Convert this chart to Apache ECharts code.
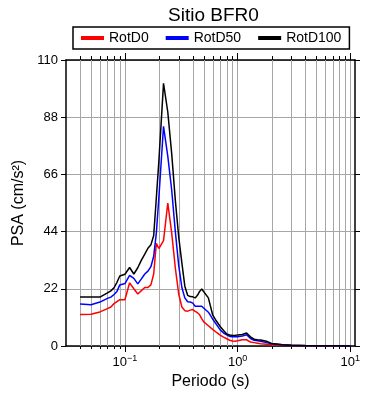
<!DOCTYPE html>
<html>
<head>
<meta charset="utf-8">
<script src="https://cdn.jsdelivr.net/npm/echarts@6/dist/echarts.min.js"></script>
<style>
html, body { margin: 0; padding: 0; background: #fff; }
#chart { width: 390px; height: 400px; }
</style>
</head>
<body>
<div id="chart"></div>
<script>
// periods (s)
const periods = [0.04, 0.05, 0.06, 0.07, 0.075, 0.08, 0.085, 0.09,
  0.1, 0.11, 0.12, 0.13, 0.14, 0.15, 0.16, 0.17, 0.18, 0.19, 0.2,
  0.22, 0.24, 0.26, 0.28, 0.3, 0.32, 0.34, 0.36, 0.38, 0.4, 0.42, 0.44, 0.46, 0.48, 0.5,
  0.55, 0.6, 0.65, 0.7, 0.75, 0.8, 0.85, 0.9, 0.95, 1.0,
  1.1, 1.2, 1.3, 1.4, 1.5, 1.6, 1.8, 2.0,
  2.5, 3.0, 3.5, 4.0,
  5.0, 6.0, 7.0, 8.0, 9.0, 10.0]

// PSA (cm/s2)
const rotD0 = [12.1, 12.2, 13.1, 14.4, 15.0, 16.3, 17.1, 17.8,
  17.8, 24.3, 22.0, 20.0, 21.3, 22.5, 22.5, 23.5, 27.7, 39.5, 37.5,
  40.5, 55.0, 43.5, 30.0, 20.0, 15.0, 13.6, 13.4, 13.8, 14.0, 13.3, 12.8, 12.0, 10.5, 9.3,
  7.8, 6.4, 5.2, 4.2, 3.4, 2.8, 2.2, 1.9, 1.8, 2.0,
  2.4, 2.4, 1.5, 1.3, 1.1, 0.9, 0.7, 0.5,
  0.3, 0.2, 0.15, 0.1,
  0.07, 0.05, 0.04, 0.03, 0.03, 0.02]

const rotD50 = [16.2, 15.9, 16.9, 18.3, 18.8, 19.8, 21.0, 23.5,
  24.0, 27.2, 26.0, 23.9, 25.8, 27.7, 28.8, 30.5, 34.5, 43.5, 57.0,
  84.5, 73.0, 60.0, 44.0, 31.0, 22.5, 18.5, 17.0, 16.9, 16.5, 15.3, 15.3, 15.3, 15.3, 15.2,
  13.0, 10.4, 8.2, 6.2, 5.0, 4.3, 3.7, 3.6, 3.6, 3.6,
  3.8, 4.3, 2.9, 2.2, 2.0, 1.8, 1.3, 0.9,
  0.45, 0.3, 0.2, 0.12,
  0.08, 0.06, 0.05, 0.04, 0.03, 0.03]

const rotD100 = [18.8, 18.8, 18.8, 20.4, 21.2, 22.4, 24.5, 26.9,
  27.6, 30.2, 27.7, 30.1, 33.0, 35.3, 37.6, 38.9, 42.5, 57.0, 71.0,
  101.0, 90.0, 74.0, 56.0, 42.0, 32.0, 23.0, 19.5, 19.0, 18.9, 18.5, 19.5, 21.0, 21.9, 21.8,
  18.5, 12.0, 9.5, 7.5, 6.0, 4.6, 4.2, 4.0, 4.1, 4.2,
  4.4, 5.0, 3.5, 2.6, 2.4, 2.3, 1.8, 1.0,
  0.5, 0.3, 0.2, 0.15,
  0.1, 0.08, 0.06, 0.05, 0.04, 0.03]

const majorPeriods = [0.1, 1, 10]
const minorPeriods = [0.04, 0.05, 0.06, 0.07, 0.08, 0.09,
  0.2, 0.3, 0.4, 0.5, 0.6, 0.7, 0.8, 0.9,
  2, 3, 4, 5, 6, 7, 8, 9]

const FONT = 'Liberation Sans, Arial, sans-serif'

const pairs = (vals) => periods.map((p, i) => [p, vals[i]])

const supText = (v) => {
  const e = Math.round(Math.log10(v))
  if (Math.abs(Math.pow(10, e) - v) > 1e-9 * v) return ''
  return '{b|10}{s|' + (e < 0 ? '\u2212' : '') + Math.abs(e) + '}'
}

const chart = echarts.init(document.getElementById('chart'), null, { renderer: 'canvas' })

const logAxis = {
  type: 'log',
  logBase: 10,
  min: 0.03,
  max: 11,
  axisLine: { onZero: false, lineStyle: { color: '#000', width: 1.5 } }
}

const option = {
  animation: false,
  backgroundColor: '#fff',
  textStyle: { fontFamily: FONT },
  title: {
    text: 'Sitio BFR0',
    left: 163,
    top: 1,
    textStyle: { fontSize: 19, fontWeight: 'normal', color: '#000', fontFamily: FONT }
  },
  legend: {
    data: ['RotD0', 'RotD50', 'RotD100'],
    left: 73,
    top: 27,
    icon: 'rect',
    itemWidth: 23,
    itemHeight: 4,
    itemGap: 17,
    padding: [4, 8],
    borderColor: '#000',
    borderWidth: 1.5,
    textStyle: { fontSize: 14, color: '#000', fontFamily: FONT }
  },
  grid: { left: 66, right: 35, top: 60, bottom: 54 },
  xAxis: [
    Object.assign({}, logAxis, {
      position: 'bottom',
      name: 'Periodo (s)',
      nameLocation: 'middle',
      nameGap: 27,
      nameTextStyle: { fontSize: 16, color: '#000', fontFamily: FONT },
      axisTick: { show: true, inside: false, length: 6, customValues: majorPeriods, lineStyle: { color: '#000' } },
      axisLabel: {
        customValues: majorPeriods,
        margin: 8,
        formatter: supText,
        rich: {
          b: { fontSize: 13, color: '#000', fontFamily: FONT, lineHeight: 16 },
          s: { fontSize: 9, color: '#000', fontFamily: FONT, verticalAlign: 'top', lineHeight: 16 }
        }
      },
      splitLine: { show: true, lineStyle: { color: '#a6a6a6', width: 1 } },
      minorTick: { show: false },
      minorSplitLine: { show: false }
    }),
    Object.assign({}, logAxis, {
      position: 'top',
      axisTick: { show: true, inside: false, length: 7, customValues: majorPeriods, lineStyle: { color: '#000' } },
      axisLabel: { show: false },
      splitLine: { show: false }
    })
  ],
  yAxis: [
    {
      type: 'value',
      position: 'left',
      min: 0,
      max: 110,
      interval: 22,
      name: 'PSA (cm/s\u00b2)',
      nameLocation: 'middle',
      nameGap: 38,
      nameTextStyle: { fontSize: 16, color: '#000', fontFamily: FONT },
      axisLine: { show: true, onZero: false, lineStyle: { color: '#000', width: 1.5 } },
      axisTick: { show: true, inside: false, length: 5, lineStyle: { color: '#000' } },
      axisLabel: { fontSize: 13, color: '#000', margin: 8, fontFamily: FONT },
      splitLine: { show: true, lineStyle: { color: '#a6a6a6', width: 1 } }
    },
    {
      type: 'value',
      position: 'right',
      min: 0,
      max: 110,
      interval: 22,
      axisLine: { show: true, onZero: false, lineStyle: { color: '#000', width: 1.5 } },
      axisTick: { show: true, inside: false, length: 5, lineStyle: { color: '#000' } },
      axisLabel: { show: false },
      splitLine: { show: false }
    }
  ],
  series: [
    {
      // minor log grid lines and ticks
      type: 'custom',
      name: 'minor',
      silent: true,
      clip: false,
      z: 1,
      xAxisIndex: 0,
      yAxisIndex: 0,
      data: minorPeriods.map(p => [p, 0]),
      renderItem: (params, api) => {
        const cs = params.coordSys
        const x = Math.round(api.coord([api.value(0), 0])[0]) + 0.5
        const top = cs.y
        const bottom = cs.y + cs.height
        return {
          type: 'group',
          children: [
            { type: 'line', shape: { x1: x, y1: top, x2: x, y2: bottom }, style: { stroke: '#a6a6a6', lineWidth: 1 } },
            { type: 'line', shape: { x1: x, y1: bottom, x2: x, y2: bottom + 3 }, style: { stroke: '#000', lineWidth: 1 } },
            { type: 'line', shape: { x1: x, y1: top, x2: x, y2: top - 4 }, style: { stroke: '#000', lineWidth: 1 } }
          ]
        }
      }
    },
    {
      name: 'RotD0',
      type: 'line',
      data: pairs(rotD0),
      showSymbol: false,
      z: 3,
      color: '#ff0000',
      lineStyle: { width: 1.5, color: '#ff0000' }
    },
    {
      name: 'RotD50',
      type: 'line',
      data: pairs(rotD50),
      showSymbol: false,
      z: 3,
      color: '#0000ff',
      lineStyle: { width: 1.5, color: '#0000ff' }
    },
    {
      name: 'RotD100',
      type: 'line',
      data: pairs(rotD100),
      showSymbol: false,
      z: 3,
      color: '#000000',
      lineStyle: { width: 1.5, color: '#000000' }
    }
  ]
}

chart.setOption(option)
</script>
</body>
</html>
